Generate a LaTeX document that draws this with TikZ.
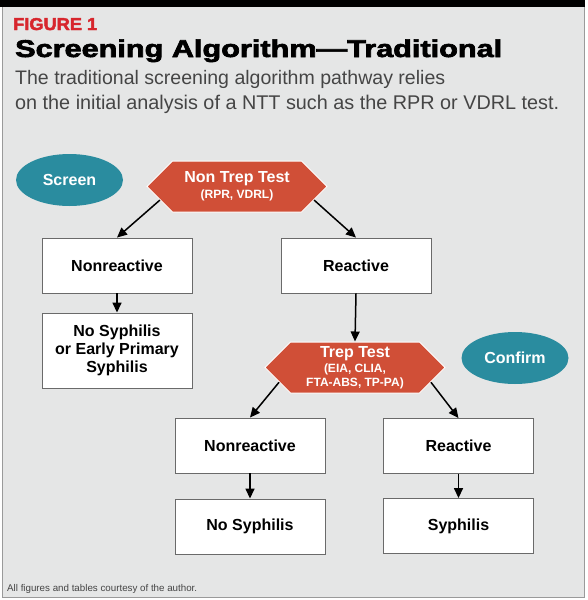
\documentclass[tikz,border=0pt]{standalone}
\usepackage{fontspec}
\setmainfont{Liberation Sans}
\newfontfamily\heavyfont{Liberation Sans Bold}[FakeBold=2.5]
\usetikzlibrary{shapes.symbols,shapes.geometric,arrows.meta}
\definecolor{panelbg}{HTML}{E5E6E6}
\definecolor{panelborder}{HTML}{9A9A9A}
\definecolor{hexred}{HTML}{D04F37}
\definecolor{ovalteal}{HTML}{2A8C9F}
\definecolor{figred}{HTML}{D7262D}
\definecolor{subgray}{HTML}{454545}
\definecolor{boxborder}{HTML}{6A6A6A}
\newcommand{\hexsub}{\fontsize{12}{13}\selectfont\bfseries}
\begin{document}
\begin{tikzpicture}[x=1pt,y=-1pt,
  box/.style={draw=boxborder, line width=0.9pt, fill=white, minimum width=150pt, minimum height=55pt, inner sep=0pt, align=center, font=\fontsize{16}{18}\selectfont\bfseries},
  hexa/.style={signal, signal to=west and east, signal pointer angle=90, fill=hexred, draw=white, line width=1pt, minimum width=180pt, minimum height=51pt, inner sep=0pt, text=white, align=center, font=\fontsize{16}{18}\selectfont\bfseries},
  oval/.style={ellipse, fill=ovalteal, minimum width=107pt, minimum height=52pt, inner sep=0pt, text=white, font=\fontsize{16}{18}\selectfont\bfseries},
  arr/.style={-{Triangle[length=10pt,width=9pt]}, line width=1.5pt}
]
\useasboundingbox (0,0) rectangle (587,600);
\fill[white] (0,0) rectangle (587,600);
\fill[panelbg, draw=panelborder, line width=1pt] (2.5,6) rectangle (584.5,597);
\fill[black] (0,0) rectangle (585,7);

\node[anchor=base west, inner sep=0pt, text=figred] (fig) at (13,30)
  {\resizebox{84pt}{12pt}{\heavyfont FIGURE 1}};
\node[anchor=base west, inner sep=0pt] (title) at (15,57)
  {\resizebox{487pt}{17.6pt}{\heavyfont Screening Algorithm—Traditional}};
\node[anchor=base west, inner sep=0pt, text=subgray] (sub1) at (15,84)
  {\resizebox{430pt}{!}{\fontsize{18}{20}\selectfont The traditional screening algorithm pathway relies}};
\node[anchor=base west, inner sep=0pt, text=subgray] (sub2) at (15,109.5)
  {\resizebox{544pt}{!}{\fontsize{18}{20}\selectfont on the initial analysis of a NTT such as the RPR or VDRL test.}};

\node[oval] (screen) at (69.5,180) {Screen};
\node[oval] (confirm) at (515,358) {Confirm};

\node[hexa] (nt) at (237,186.5) {Non Trep Test\\[-2pt]{\hexsub (RPR, VDRL)}};
\node[box] (nr1) at (117,265.5) {Nonreactive};
\node[box] (r1) at (356,265.5) {Reactive};
\node[box, minimum height=75pt] (ns1) at (117,350.5) {No Syphilis\\or Early Primary\\Syphilis};
\node[hexa] (tt) at (355,367.5) {Trep Test\\[-3pt]{\hexsub (EIA, CLIA,}\\[-4pt]{\hexsub FTA-ABS, TP-PA)}};
\node[box] (nr2) at (250,445.5) {Nonreactive};
\node[box] (r2) at (458.5,446) {Reactive};
\node[box] (ns2) at (250,526.5) {No Syphilis};
\node[box] (s2) at (458.5,526) {Syphilis};

\draw[arr] (nt.190) -- (nr1.north);
\draw[arr] (nt.350) -- (r1.north);
\draw[arr] (nr1.south) -- (ns1.north);
\draw[arr] (r1.south) -- (tt.north);
\draw[arr] (tt.191) -- (nr2.north);
\draw[arr] (tt.349) -- (r2.north);
\draw[arr] (nr2.south) -- (ns2.north);
\draw[arr] (r2.south) -- (s2.north);

\node[anchor=base west, inner sep=0pt, text=subgray] (foot) at (7,591)
  {\resizebox{190pt}{!}{\fontsize{10.5}{12}\selectfont All figures and tables courtesy of the author.}};
\end{tikzpicture}
\end{document}
